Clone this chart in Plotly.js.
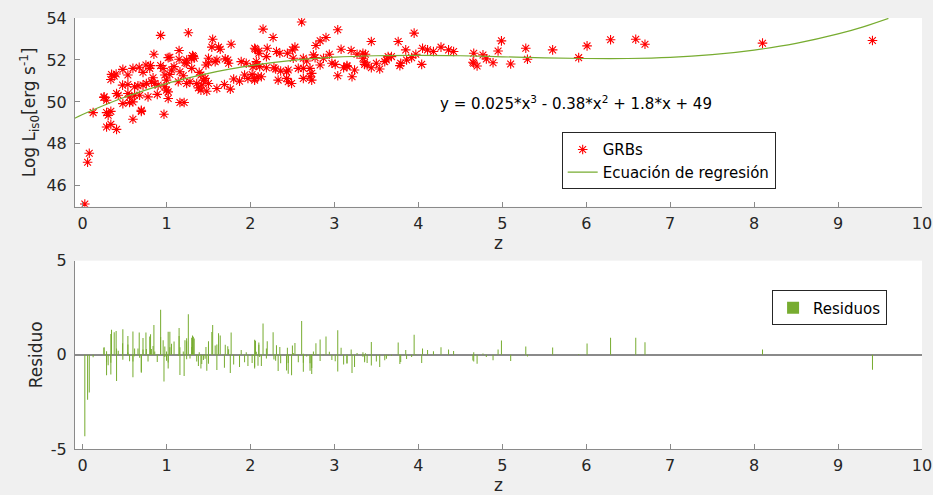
<!DOCTYPE html>
<html>
<head>
<meta charset="utf-8">
<script src="https://cdn.plot.ly/plotly-3.0.1.min.js"></script>
<style>
  html, body { margin: 0; padding: 0; background: #f0f0f0; }
  #chart { width: 933px; height: 495px; }
</style>
</head>
<body>
<div id="chart"></div>
<script>
// ---- Data ----
const GRB_Z = [0.027,0.06,0.08,0.126,0.254,0.257,0.286,0.286,0.305,0.337,0.286,0.337,0.405,0.345,0.377,0.337,0.40,0.405,0.425,0.477,0.48,0.48,0.54,0.54,0.54,0.56,0.56,0.60,0.60,0.60,0.62,0.62,0.66,0.675,0.68,0.70,0.70,0.72,0.72,0.755,0.76,0.78,0.80,0.81,0.82,0.84,0.85,0.86,0.89,0.90,0.93,0.93,0.96,0.97,0.98,0.98,1.0,1.0,1.02,1.02,1.02,1.04,1.04,1.06,1.09,1.14,1.15,1.15,1.16,1.16,1.20,1.21,1.22,1.24,1.24,1.24,1.26,1.28,1.30,1.30,1.31,1.32,1.33,1.36,1.38,1.39,1.41,1.41,1.42,1.44,1.46,1.47,1.48,1.50,1.50,1.50,1.54,1.55,1.58,1.60,1.60,1.62,1.64,1.69,1.70,1.73,1.74,1.76,1.77,1.80,1.87,1.89,1.93,1.95,1.97,2.02,2.03,2.05,2.05,2.05,2.06,2.07,2.07,2.09,2.10,2.10,2.11,2.13,2.15,2.19,2.19,2.20,2.27,2.28,2.30,2.31,2.33,2.35,2.36,2.43,2.43,2.44,2.45,2.45,2.49,2.50,2.51,2.53,2.57,2.61,2.63,2.63,2.63,2.67,2.71,2.71,2.73,2.73,2.75,2.77,2.78,2.83,2.83,2.87,2.90,2.94,2.97,3.01,3.04,3.04,3.08,3.11,3.15,3.15,3.20,3.21,3.24,3.27,3.34,3.34,3.36,3.36,3.37,3.39,3.44,3.44,3.50,3.54,3.60,3.62,3.64,3.68,3.76,3.78,3.79,3.85,3.86,3.92,3.95,3.97,4.04,4.05,4.11,4.18,4.27,4.36,4.42,4.65,4.66,4.66,4.70,4.77,4.81,4.89,4.95,4.99,5.10,5.28,5.30,5.60,5.91,6.01,6.29,6.59,6.70,8.10,9.41];

const GRB_LOGL = [45.13,47.12,47.55,49.49,50.21,50.24,50.08,49.49,49.36,49.55,48.8,48.93,48.69,51.31,51.23,51.07,51.33,50.4,50.32,50.8,49.92,51.55,51.28,50.83,50.4,50.24,49.97,51.6,50.0,49.17,50.72,50.32,50.77,51.65,50.32,49.6,49.55,51.41,50.8,51.76,50.88,50.24,51.6,51.73,50.96,51.15,52.27,50.88,50.36,50.8,53.17,51.73,51.6,49.41,51.28,50.72,51.04,50.56,52.11,50.48,50.16,52.13,51.31,51.52,51.68,50.96,52.45,52.03,51.44,49.97,51.25,49.97,51.87,52.0,51.84,50.88,53.3,50.96,52.08,51.6,52.21,52.16,52.08,50.88,50.67,51.41,51.28,50.56,50.8,51.04,51.12,51.76,50.51,52.08,51.87,50.88,52.61,52.99,51.92,52.0,50.64,52.61,52.51,50.83,52.05,52.0,51.84,50.61,52.75,51.09,50.99,51.92,51.28,51.84,51.12,51.31,51.68,51.12,52.56,51.04,52.51,51.76,51.92,51.2,52.43,52.32,51.68,51.2,53.47,52.16,51.63,52.56,53.07,51.63,51.57,52.4,51.04,52.32,51.47,51.44,51.12,52.32,51.52,50.96,50.88,52.48,52.08,52.61,51.6,53.81,52.08,51.6,51.12,51.95,51.6,51.2,51.36,51.04,52.24,52.11,52.69,52.91,51.76,52.08,53.07,52.27,51.84,51.79,53.44,51.25,52.51,51.63,51.68,51.73,52.45,51.2,51.52,52.27,52.32,52.08,51.89,51.79,52.27,51.76,52.88,51.63,51.84,51.57,51.92,52.0,52.16,52.16,52.88,51.73,51.84,52.48,52.0,52.11,53.28,52.27,51.79,52.56,52.48,52.4,52.61,52.48,52.4,51.89,52.32,51.84,51.71,52.24,52.05,51.87,52.43,52.91,51.81,52.56,52.03,52.48,52.11,52.67,52.96,52.99,52.75,52.8,52.93];

const RESIDUALS = [-4.32,-2.39,-2.0,-0.13,0.37,0.40,0.19,-0.40,-0.56,-0.42,-1.09,-1.04,-1.39,1.33,1.2,1.10,1.26,0.33,0.21,0.62,-0.26,1.36,1.0,0.55,0.12,-0.07,-0.34,1.24,-0.36,-1.19,0.33,-0.07,0.33,1.19,-0.15,-0.9,-0.95,0.89,0.28,1.19,0.31,-0.36,0.97,1.09,0.31,0.47,1.58,0.18,-0.38,0.05,2.39,0.94,0.78,-1.42,0.44,-0.12,0.17,-0.31,1.22,-0.41,-0.73,1.22,0.40,0.59,0.71,-0.06,1.42,1.0,0.4,-1.07,0.17,-1.12,0.77,0.88,0.72,-0.24,2.16,-0.2,0.9,0.42,1.02,0.96,0.87,-0.36,-0.59,0.14,0.0,-0.72,-0.49,-0.27,-0.21,0.42,-0.84,0.72,0.51,-0.48,1.21,1.59,0.49,0.55,-0.81,1.15,1.03,-0.69,0.53,0.46,0.29,-0.96,1.18,-0.51,-0.65,0.26,-0.4,0.14,-0.59,-0.43,-0.06,-0.64,0.8,-0.72,0.75,0.0,0.16,-0.58,0.65,0.54,-0.11,-0.6,1.66,0.33,-0.2,0.72,1.2,-0.25,-0.32,0.51,-0.86,0.41,-0.45,-0.51,-0.83,0.37,-0.44,-1.0,-1.09,0.5,0.1,0.63,-0.4,1.8,0.06,-0.42,-0.9,-0.09,-0.45,-0.85,-0.7,-1.02,0.18,0.04,0.62,0.82,-0.33,-0.02,0.97,0.16,-0.28,-0.34,1.3,-0.89,0.37,-0.52,-0.48,-0.43,0.28,-0.97,-0.65,0.1,0.14,-0.1,-0.3,-0.4,0.08,-0.43,0.68,-0.57,-0.36,-0.64,-0.29,-0.21,-0.05,-0.05,0.66,-0.49,-0.38,0.26,-0.22,-0.11,1.06,0.05,-0.43,0.34,0.26,0.19,0.4,0.28,0.2,-0.3,0.14,-0.35,-0.47,0.07,-0.12,-0.29,0.28,0.76,-0.33,0.44,-0.09,0.39,0.04,0.6,0.9,0.91,0.67,0.28,-0.79];

// Regression curve
const FIT_Z    = [-0.1, 0, 0.25, 0.5, 0.75, 1, 1.25, 1.5, 1.75, 2, 2.5, 3, 3.5, 4, 4.5, 5, 5.5, 6, 6.5, 7, 7.5, 8, 8.5, 9, 9.3, 9.6];
const FIT_LOGL = [49.21, 49.40, 49.83, 50.22, 50.56, 50.87, 51.13, 51.36, 51.56, 51.73, 51.98, 52.13, 52.20, 52.22, 52.20, 52.15, 52.10, 52.07, 52.07, 52.12, 52.25, 52.47, 52.79, 53.24, 53.58, 53.98];

const X_TICKS = [0,1,2,3,4,5,6,7,8,9,10];
const Y1_TICKS = [46,48,50,52,54];
const Y2_TICKS = [-5,0,5];
const Y2_TICK_TEXT = ['-5','0','5'];

const FIT_LABEL = 'y = 0.025*x<sup>3</sup> - 0.38*x<sup>2</sup> + 1.8*x + 49';

// ---- Styling ----
const FONT = 'DejaVu Sans, Liberation Sans, sans-serif';
const TXT = '#262626';
const AXC = '#8a8a8a';
const GREEN = '#77ac30';

const baseX = {
  range: [-0.09, 10],
  tickvals: X_TICKS,
  ticks: 'inside', ticklen: 5, tickcolor: AXC, tickwidth: 1,
  showline: true, linecolor: AXC, linewidth: 1, mirror: false,
  showgrid: false, zeroline: false,
  tickfont: {family: FONT, size: 16, color: TXT},
  ticklabelstandoff: 2
};

const traces = [
  {
    type: 'scatter', mode: 'markers', name: 'GRBs',
    x: GRB_Z, y: GRB_LOGL, xaxis: 'x', yaxis: 'y',
    marker: {symbol: 'asterisk-open', size: 8, color: '#ff0000', line: {color: '#ff0000', width: 1.1}},
    legend: 'legend'
  },
  {
    type: 'scatter', mode: 'lines', name: 'Ecuación de regresión',
    x: FIT_Z, y: FIT_LOGL, xaxis: 'x', yaxis: 'y',
    line: {color: GREEN, width: 1.2, shape: 'spline'},
    legend: 'legend'
  },
  {
    type: 'bar', name: 'Residuos',
    x: GRB_Z, y: RESIDUALS, xaxis: 'x2', yaxis: 'y2',
    width: 0.012,
    marker: {color: GREEN, line: {width: 0}},
    legend: 'legend2'
  }
];

const layout = {
  width: 933, height: 495,
  paper_bgcolor: '#f0f0f0', plot_bgcolor: '#ffffff',
  margin: {l: 75, r: 11, t: 18, b: 46},
  font: {family: FONT, color: TXT},
  showlegend: true,
  barmode: 'overlay',
  xaxis: Object.assign({}, baseX, {
    domain: [0, 1], anchor: 'y',
    title: {text: 'z', font: {family: FONT, size: 17, color: TXT}, standoff: 4}
  }),
  yaxis: {
    domain: [0.562, 1], anchor: 'x',
    range: [45, 54], tickvals: Y1_TICKS,
    ticks: 'inside', ticklen: 5, tickcolor: AXC,
    showline: true, linecolor: AXC, linewidth: 1, mirror: false,
    showgrid: false, zeroline: false,
    tickfont: {family: FONT, size: 16, color: TXT},
    ticklabelstandoff: 4,
    title: {text: 'Log L<sub>is0</sub>[erg s<sup>-1</sup>]', font: {family: FONT, size: 17, color: TXT}, standoff: 6}
  },
  xaxis2: Object.assign({}, baseX, {
    domain: [0, 1], anchor: 'y2',
    title: {text: 'z', font: {family: FONT, size: 17, color: TXT}, standoff: 4}
  }),
  yaxis2: {
    domain: [0, 0.437], anchor: 'x2',
    range: [-5, 5], tickvals: Y2_TICKS, ticktext: Y2_TICK_TEXT,
    ticks: 'inside', ticklen: 5, tickcolor: AXC,
    showline: true, linecolor: AXC, linewidth: 1, mirror: false,
    showgrid: false,
    zeroline: true, zerolinecolor: '#8a8a8a', zerolinewidth: 1.5,
    tickfont: {family: FONT, size: 16, color: TXT},
    ticklabelstandoff: 4,
    title: {text: 'Residuo', font: {family: FONT, size: 17, color: TXT}, standoff: 3}
  },
  legend: {
    x: 0.5746, y: 0.7348, xanchor: 'left', yanchor: 'top',
    xref: 'paper', yref: 'paper',
    bgcolor: '#ffffff', bordercolor: '#262626', borderwidth: 1,
    font: {family: FONT, size: 15, color: '#000'},
    tracegroupgap: 0, itemwidth: 30
  },
  legend2: {
    x: 0.823, y: 0.368, xanchor: 'left', yanchor: 'top',
    xref: 'paper', yref: 'paper',
    bgcolor: '#ffffff', bordercolor: '#262626', borderwidth: 1,
    font: {family: FONT, size: 15, color: '#000'},
    itemwidth: 30
  },
  annotations: [{
    xref: 'x', yref: 'y', x: 4.23, y: 49.94,
    xanchor: 'left', yanchor: 'middle', showarrow: false,
    text: FIT_LABEL,
    font: {family: FONT, size: 15, color: '#000'}
  }]
};

Plotly.newPlot('chart', traces, layout, {staticPlot: true, displayModeBar: false});
</script>
</body>
</html>
